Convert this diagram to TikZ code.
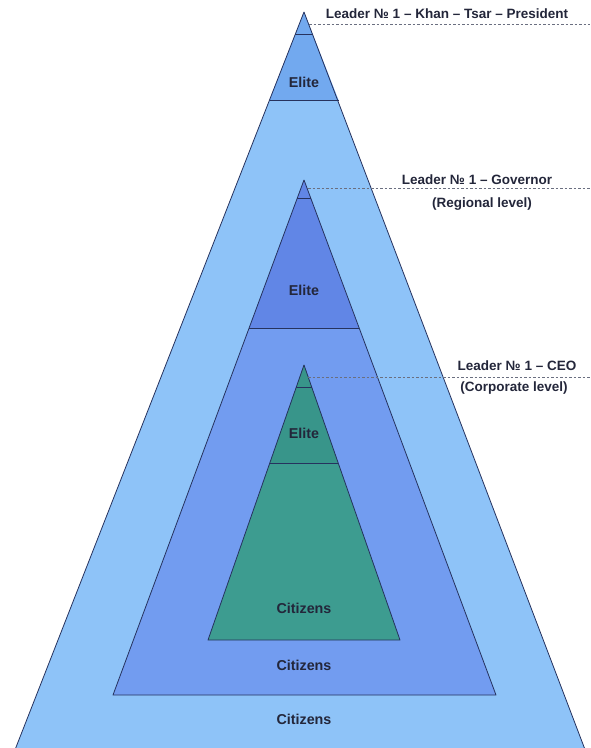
\documentclass[tikz,border=0pt]{standalone}
\usepackage{fontspec}
\setmainfont{Liberation Sans}
\begin{document}
\begin{tikzpicture}[x=1pt,y=-1pt,
  edge/.style={draw=linecol, line width=0.8pt, line join=round},
  divider/.style={draw=linecol, line width=0.8pt},
  leader/.style={draw=dashcol, line width=0.6pt, dash pattern=on 2.5pt off 2pt},
  lbl/.style={font=\bfseries\fontsize{14.3}{16}\selectfont, text=txtcol, inner sep=0pt},
  side/.style={font=\bfseries\fontsize{13.5}{16}\selectfont, text=txtcol, inner sep=0pt}]
\definecolor{linecol}{HTML}{26325E}
\definecolor{dashcol}{HTML}{6A6F80}
\definecolor{txtcol}{HTML}{23263A}
\definecolor{outbody}{HTML}{8EC3F8}
\definecolor{outelite}{HTML}{72A9EF}
\definecolor{midbody}{HTML}{729CF0}
\definecolor{midelite}{HTML}{6186E6}
\definecolor{inbody}{HTML}{3D9C90}
\definecolor{inelite}{HTML}{38958A}
\useasboundingbox (0,0) rectangle (590,748);
\clip (0,0) rectangle (590,748);
% outer triangle
\coordinate (oA) at (304,12);
\coordinate (oL) at (11,760);
\coordinate (oR) at (589,760);
\fill[outbody] (oA) -- (oL) -- (oR) -- cycle;
\fill[outelite] (oA) -- (269.5,100) -- (338.5,100) -- cycle;
\draw[edge] (oL) -- (oA) -- (oR);
\draw[divider] (295.4,34) -- (312.6,34);
\draw[divider] (269.5,100) -- (338.5,100);
% middle triangle
\coordinate (mA) at (304,180);
\coordinate (mL) at (113,695);
\coordinate (mR) at (496,695);
\fill[midbody] (mA) -- (mL) -- (mR) -- cycle;
\fill[midelite] (mA) -- (249.1,328) -- (358.9,328) -- cycle;
\draw[edge] (mA) -- (mL) -- (mR) -- cycle;
\draw[divider] (297.3,198) -- (310.7,198);
\draw[divider] (249.1,328) -- (358.9,328);
% inner triangle
\coordinate (iA) at (304,365);
\coordinate (iL) at (208,640);
\coordinate (iR) at (400,640);
\fill[inbody] (iA) -- (iL) -- (iR) -- cycle;
\fill[inelite] (iA) -- (269.8,463) -- (338.2,463) -- cycle;
\draw[edge] (iA) -- (iL) -- (iR) -- cycle;
\draw[divider] (296.4,387) -- (311.6,387);
\draw[divider] (269.8,463) -- (338.2,463);
% leader dashed lines
\coordinate (d1s) at (309,24);  \coordinate (d1e) at (590,24);
\coordinate (d2s) at (308,188); \coordinate (d2e) at (590,188);
\coordinate (d3s) at (308,377); \coordinate (d3e) at (590,377);
\draw[leader] (d1s) -- (d1e);
\draw[leader] (d2s) -- (d2e);
\draw[leader] (d3s) -- (d3e);
% texts
\node[lbl] (e1) at (304,82) {Elite};
\node[lbl] (e2) at (304,290) {Elite};
\node[lbl] (e3) at (304,433) {Elite};
\node[lbl] (c3) at (304,608) {Citizens};
\node[lbl] (c2) at (304,665) {Citizens};
\node[lbl] (c1) at (304,719) {Citizens};
\node[side] (t1) at (447,14) {Leader № 1 – Khan – Tsar – President};
\node[side] (t2) at (477,180) {Leader № 1 – Governor};
\node[side] (t2b) at (482,204) {(Regional level)};
\node[side] (t3) at (517,366) {Leader № 1 – CEO};
\node[side] (t3b) at (514,388) {(Corporate level)};
\end{tikzpicture}
\end{document}
